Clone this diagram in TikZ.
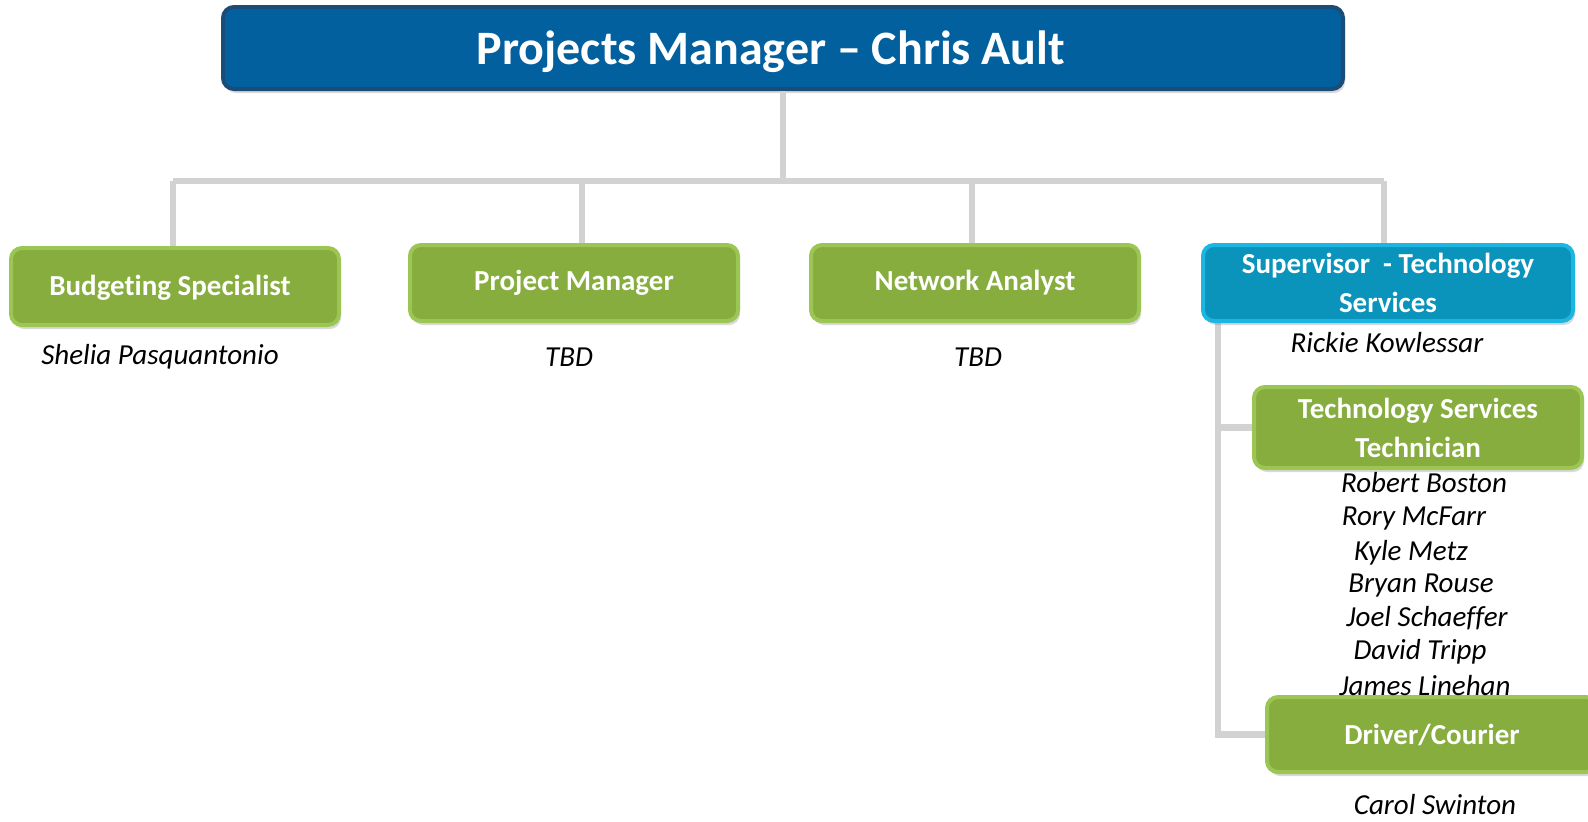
\documentclass[tikz,border=0pt]{standalone}
\usepackage{fontspec}
\setmainfont[Ligatures=NoCommon]{Carlito}
\usetikzlibrary{shadows}
\definecolor{gfill}{HTML}{86AD3E}
\definecolor{gborder}{HTML}{9CC654}
\definecolor{bfill}{HTML}{02609E}
\definecolor{bborder}{HTML}{1B4C77}
\definecolor{cfill}{HTML}{0A93BB}
\definecolor{cborder}{HTML}{1DB6E3}
\definecolor{conn}{HTML}{D2D2D2}
\tikzset{
  box/.style={rounded corners=11pt, line width=4pt, text=white, align=center,
    font=\fontsize{29}{39}\selectfont\bfseries,
    drop shadow={opacity=0.3, shadow xshift=2pt, shadow yshift=-4pt}},
  gbox/.style={box, draw=gborder, fill=gfill},
  cbox/.style={box, draw=cborder, fill=cfill},
  tbox/.style={box, draw=bborder, fill=bfill, font=\fontsize{48}{52}\selectfont\bfseries},
  nm/.style={font=\fontsize{29}{30}\selectfont\itshape, text=black, inner sep=0pt},
  link/.style={draw=conn, line width=6.5pt}
}
\begin{document}
\begin{tikzpicture}[x=1pt,y=-1pt]
\useasboundingbox (0,0) rectangle (1588,822);
% connectors
\coordinate (bL) at (173,181);
\coordinate (bR) at (1384,181);
\coordinate (bC) at (783,181);
\coordinate (pmx) at (582,181);
\coordinate (nax) at (972,181);
\coordinate (sv) at (1218,321);
% boxes
\node[tbox, minimum width=1120pt, minimum height=82pt] (top) at (783,48) {\hspace*{-24pt}\raisebox{-4pt}[\height][\depth]{Projects Manager -- Chris Ault}};
\node[gbox, minimum width=328pt, minimum height=77pt] (bud) at (175,286.5) {\hspace*{-10pt}\raisebox{-1pt}[\height][\depth]{Budgeting Specialist}};
\node[gbox, minimum width=328pt, minimum height=76pt] (pm) at (574,283) {Project Manager};
\node[gbox, minimum width=328pt, minimum height=76pt] (na) at (975,283) {Network Analyst};
% lines
\path[link] (top.south) -- (bC);
\path[link] (bL) -- (bR);
\path[link] (bL) -- (bL |- bud.north);
\path[link] (pmx) -- (pmx |- pm.north);
\path[link] (nax) -- (nax |- na.north);
\path[link] (bR) -- (bR |- 0,245);
\path[link] (sv) |- (1270,734.5);
\path[link] (1221,427.5) -- (1256,427.5);
% boxes drawn over the lines
\node[cbox, minimum width=370pt, minimum height=76pt, inner sep=0pt] (sup) at (1388,283) {Supervisor~ - Technology\\Services};
\node[gbox, minimum width=328pt, minimum height=81pt, inner sep=0pt] (tech) at (1418,427.5) {Technology Services\\Technician};
\node[gbox, minimum width=330pt, minimum height=75pt] (drv) at (1432,734.5) {Driver/Courier};
% names
\node[nm] (n1) at (160,357) {Shelia Pasquantonio};
\node[nm] (n2) at (569,357) {TBD};
\node[nm] (n3) at (978,357) {TBD};
\node[nm] (n4) at (1387,343) {Rickie Kowlessar};
\node[nm] (n5) at (1424,483) {Robert Boston};
\node[nm] (n6) at (1414,519) {Rory McFarr};
\node[nm] (n7) at (1411,553) {Kyle Metz};
\node[nm] (n8) at (1421,586) {Bryan Rouse};
\node[nm] (n9) at (1427,618) {Joel Schaeffer};
\node[nm] (n10) at (1420,652) {David Tripp};
\node[nm] (n11) at (1425,686) {James Linehan};
\node[nm] (n12) at (1435,805) {Carol Swinton};
\end{tikzpicture}
\end{document}
